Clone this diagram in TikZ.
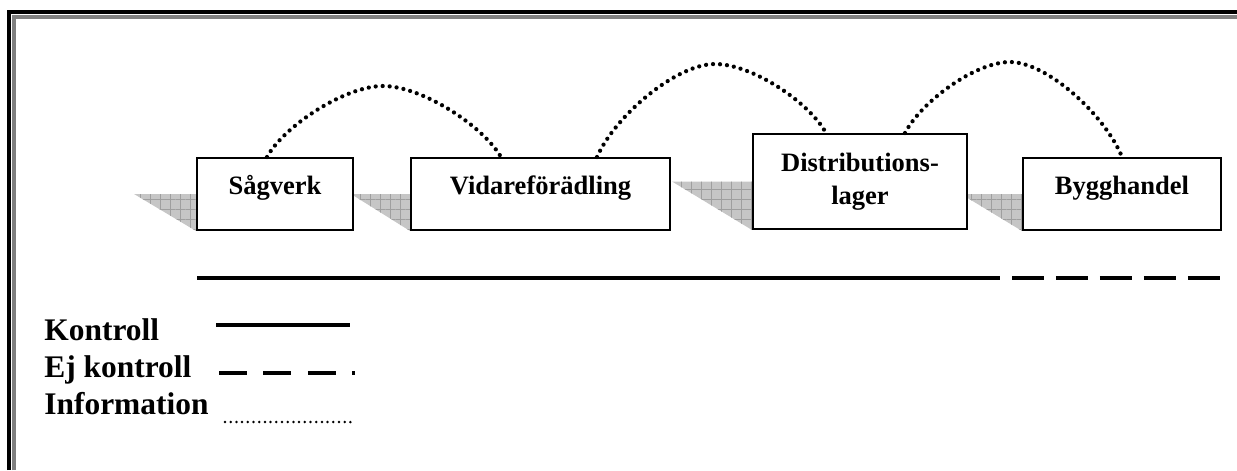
\documentclass[tikz,border=0pt]{standalone}
\usepackage{fontspec}
\setmainfont{Liberation Serif}
\usetikzlibrary{calc,backgrounds,patterns.meta}

\begin{document}
\begin{tikzpicture}[x=0.02cm, y=-0.02cm,
  box/.style={rectangle, draw, line width=0.04cm, fill=white, align=center,
              font=\bfseries\fontsize{15.1}{18.8}\selectfont},
  onebox/.style={box, inner sep=0pt, text height=0.72cm, text depth=0.72cm},
  shade/.style={preaction={fill=gray!45}, pattern={Hatch[angle=0,distance=5.7pt,line width=0.5pt]},
                pattern color=gray!75},
  ctrl/.style={line width=0.075cm},
  noctrl/.style={line width=0.075cm, dash pattern=on 0.64cm off 0.24cm},
  info/.style={line width=0.085cm, line cap=round, dash pattern=on 0pt off 0.14cm},
  legtext/.style={anchor=base west, inner sep=0pt, font=\bfseries\fontsize{17.9}{20}\selectfont}
]
\useasboundingbox (0,0) rectangle (1237,470);

% ram
\draw[line width=0.08cm] (9.3,470) -- (9.3,12) -- (1237,12);
\draw[line width=0.08cm, black!50] (14,470) -- (14,17) -- (1237,17);

% kedjan
\node[onebox, minimum width=3.12cm] (sag) at (275,194) {Sågverk};
\node[onebox, minimum width=5.18cm] (vid) at (540.5,194) {Vidareförädling};
\node[box, minimum width=4.28cm, minimum height=1.9cm] (dist) at (860,181.5) {Distributions-\\lager};
\node[onebox, minimum width=3.96cm] (bygg) at (1122,194) {Bygghandel};

% skuggor
\begin{scope}[on background layer]
\path[shade] ($(sag.west)+(-62,0)$) -- (sag.west) -- (sag.south west) -- cycle;
\path[shade] ($(vid.west)+(-59,0)$) -- (vid.west) -- (vid.south west) -- cycle;
\path[shade] ($(dist.west)+(-80,0)$) -- (dist.west) -- (dist.south west) -- cycle;
\path[shade] ($(bygg.west)+(-61,0)$) -- (bygg.west) -- (bygg.south west) -- cycle;
\end{scope}

% informationsflöde
\draw[info] ($(sag.north)+(-8,0)$) .. controls (284,126) and (345,86) .. (383,86)
  .. controls (422,86) and (483,126) .. ($(vid.north)+(-39.5,0)$);
\draw[info] ($(vid.north)+(56.5,0)$) .. controls (615,116) and (676,64) .. (715,64)
  .. controls (752,64) and (809,102) .. ($(dist.north)+(-34,0)$);
\draw[info] ($(dist.north)+(45,0)$) .. controls (921,102) and (975,62) .. (1010,62)
  .. controls (1047,62) and (1105,115) .. (bygg.north);

% kontroll
\coordinate (lnA) at (197,278);
\coordinate (lnB) at (968,278);
\coordinate (lnC) at (1220,278);
\draw[ctrl] (lnA) -- (lnB);
\draw[noctrl] (lnB) -- (lnC);

% förklaring
\node[legtext] (kon) at (44,340) {Kontroll};
\node[legtext] (ejk) at (44,377) {Ej kontroll};
\node[legtext] (inf) at (44,414) {Information};
\draw[ctrl] (216,325) -- (350,325);
\draw[line width=0.075cm, dash pattern=on 0.56cm off 0.33cm] (219,373) -- (355,373);
\draw[line width=0.055cm, line cap=round, dash pattern=on 0pt off 0.114cm] (225,422) -- (355,422);

\end{tikzpicture}
\end{document}
